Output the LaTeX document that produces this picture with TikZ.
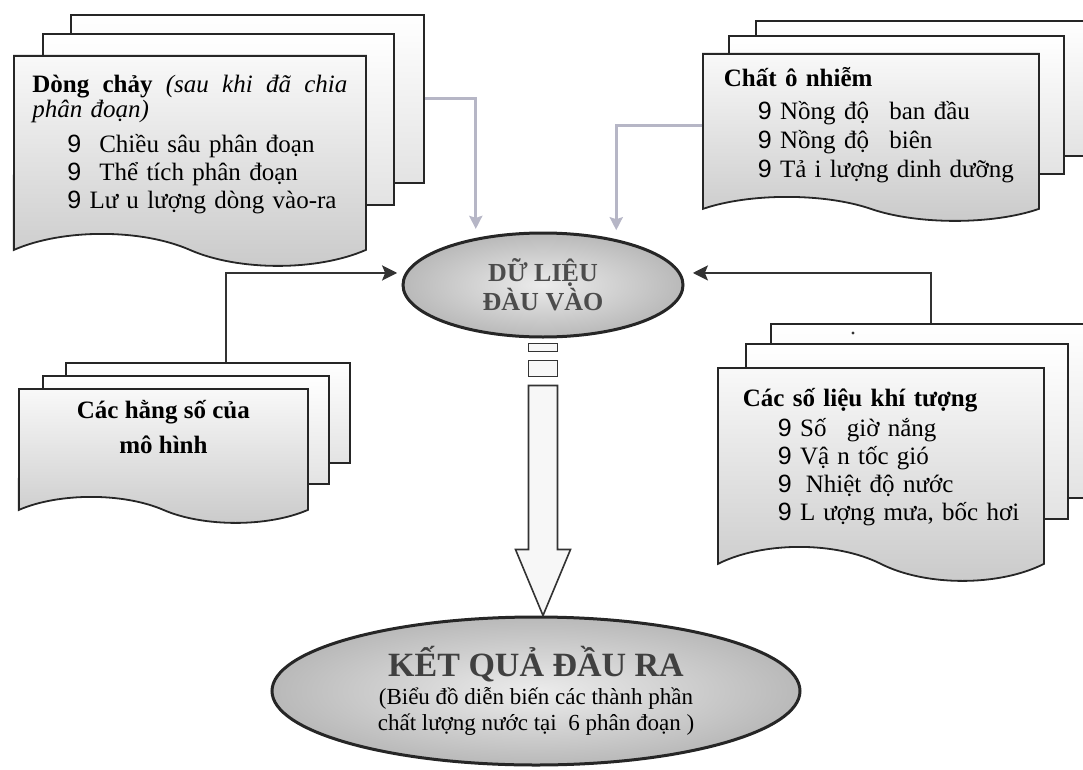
\documentclass[tikz,border=0pt]{standalone}
\usepackage{fontspec}
\setmainfont{Liberation Serif}
\newfontfamily\bulletfont{Liberation Sans}
\usepackage{xcolor}
\usetikzlibrary{shapes.geometric, shapes.symbols, arrows.meta, calc, positioning}
\definecolor{haze}{HTML}{B6B6C6}
\newcommand{\chk}{{\bulletfont 9}}
\tikzstyle{sheet} = [rectangle, anchor=north west, 
inner sep=0pt, 
line width=1.8pt, 
draw=black!85, 
top color=white, 
bottom color=gray!22]
\tikzstyle{page} = [tape, 
tape bend top=none, 
tape bend bottom=out and in, 
tape bend height=30pt, 
anchor=north west, 
inner sep=0pt, 
line width=1.8pt, 
draw=black!85, 
top color=gray!5, 
bottom color=gray!42, 
align=left]
\tikzstyle{blob} = [ellipse, 
inner sep=0pt, 
line width=3pt, 
draw=black!85, 
inner color=gray!15, 
outer color=gray!55, 
align=center]
\tikzstyle{arrow} = [line width=2.5pt, draw=black!80, -{Stealth[length=15pt,width=15pt,inset=3pt]}]
\tikzstyle{softarrow} = [line width=3pt, draw=haze, -{Stealth[length=13pt,width=13pt,inset=2pt]}]
\tikzstyle{hollow} = [line width=1.6pt, draw=black!80, fill=gray!6]

\begin{document}
\begin{tikzpicture}[x=1pt, y=-1pt]
\useasboundingbox (0,0) rectangle (1083,770);

% Dong chay
\node (flowback) [sheet, minimum width=353pt, minimum height=168pt] at (70,14) {};
\node (flowmid) [sheet, minimum width=351pt, minimum height=171pt] at (42,33) {};
\node (flowpage) [page, minimum width=352pt, minimum height=210pt, tape bend height=32pt, text width=315pt,
  font=\fontsize{25pt}{28pt}\selectfont] at (13,55) {\textbf{Dòng}\hfill\textbf{chảy}\hfill\textit{(sau}\hfill\textit{khi}\hfill\textit{đã}\hfill\textit{chia}\\[-3pt]
\textit{phân đoạn)}\\[7pt]
\hspace*{35pt}\chk\hspace{18pt}Chiều sâu phân đoạn\\
\hspace*{35pt}\chk\hspace{18pt}Thể tích phân đoạn\\
\hspace*{35pt}\chk{} Lư\hspace{8pt}u lượng dòng vào-ra};

% Chat o nhiem
\node (pollback) [sheet, minimum width=340pt, minimum height=135pt] at (755,20) {};
\node (pollmid) [sheet, minimum width=335pt, minimum height=138pt] at (728,35) {};
\node (pollpage) [page, minimum width=336pt, minimum height=167pt, tape bend height=24pt, text width=294pt,
  font=\fontsize{25pt}{29pt}\selectfont] at (702,53) {\textbf{Chất ô nhiễm}\\[4pt]
\hspace*{34pt}\chk{} Nồng độ\hspace{12pt} ban đầu\\
\hspace*{34pt}\chk{} Nồng độ\hspace{12pt} biên\\
\hspace*{34pt}\chk{} Tả\hspace{8pt}i lượng dinh dưỡng};

% Hang so
\node (constback) [sheet, minimum width=284pt, minimum height=100pt] at (65,362) {};
\node (constmid) [sheet, minimum width=286pt, minimum height=108pt] at (42,375) {};
\node (constpage) [page, minimum width=289pt, minimum height=134pt, tape bend height=26pt] at (18,388) {};
\node (consttext) [align=center, font=\fontsize{25pt}{35pt}\selectfont\bfseries, below=9pt of constpage.north]
  {Các hằng số của\\mô hình};

% Khi tuong
\node (meteoback) [sheet, minimum width=320pt, minimum height=174pt] at (770,323) {};
\node (meteomid) [sheet, minimum width=322pt, minimum height=175pt] at (745,343) {};
\node (speck) [circle, fill=black!80, inner sep=1.2pt] at (853,333) {};
\node (meteopage) [page, minimum width=326pt, minimum height=213pt, tape bend height=34pt, text width=302pt,
  font=\fontsize{25pt}{28pt}\selectfont] at (717,367) {\hspace*{13pt}\textbf{Các số liệu khí tượng}\\[2pt]
\hspace*{48pt}\chk{} Số\hspace{12pt} giờ nắng\\
\hspace*{48pt}\chk{} Vậ\hspace{8pt}n tốc gió\\
\hspace*{48pt}\chk\hspace{14pt}Nhiệt độ nước\\
\hspace*{48pt}\chk{} L\hspace{8pt}ượng mưa, bốc hơi\\[-6pt]};

% ellipses
\node (data) [blob, minimum width=280pt, minimum height=104pt, text=black!70,
  font=\fontsize{26pt}{29pt}\selectfont\bfseries] at (543,285) {DỮ LIỆU\\ĐÀU VÀO};
\node (result) [blob, minimum width=528pt, minimum height=148pt,
  font=\fontsize{23pt}{26pt}\selectfont] at (536,691)
  {{\fontsize{34pt}{26pt}\selectfont\bfseries\color{black!75}KẾT QUẢ ĐẦU RA}\\[2pt]
  (Biểu đồ diễn biến các thành phần\\chất lượng nước tại\ \ 6 phân đoạn )};

% connectors
\draw [softarrow, shorten >=9pt] (flowback.east) -| (data.145);
\draw [softarrow, shorten >=9pt] (pollpage.west) -| (data.32);
\draw [arrow, shorten >=8pt] ($(constback.north)+(18,0)$) |- (data.175);
\draw [arrow, shorten >=12pt] (meteoback.north) |- (data.5);

% hollow arrow down
\draw [hollow] ($(data.south)+(-14.5,5)$) rectangle ($(data.south)+(14.5,13)$);
\draw [hollow] ($(data.south)+(-14.5,22)$) rectangle ($(data.south)+(14.5,38)$);
\draw [hollow] ($(data.south)+(-14.5,47)$) -- ($(data.south)+(14.5,47)$) -- ($(data.south)+(14.5,211)$)
  -- ($(data.south)+(27.5,211)$) -- (data.south |- result.north) -- ($(data.south)+(-27.5,211)$)
  -- ($(data.south)+(-14.5,211)$) -- cycle;

\end{tikzpicture}
\end{document}
